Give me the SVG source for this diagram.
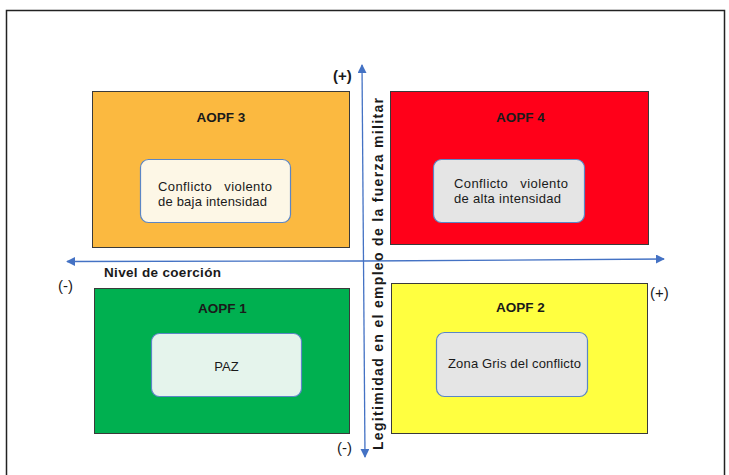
<svg xmlns="http://www.w3.org/2000/svg" width="729" height="475" viewBox="0 0 729 475">
<defs>
<style>
.q{stroke:#3a3a3a;stroke-width:1}
.in{stroke:#5b86c5;stroke-width:1.2}
.t{font-family:"Liberation Sans",Arial,sans-serif;fill:#1a1a1a}
.b{font-weight:bold;font-size:13.5px;text-anchor:middle}
.s{font-size:13px;white-space:pre}
.ax{stroke:#4472c4;stroke-width:1.3;fill:none}
</style>
<marker id="ah" viewBox="0 0 10 10" refX="9" refY="5" markerWidth="9" markerHeight="9" markerUnits="userSpaceOnUse" orient="auto">
<path d="M0,0 L10,5 L0,10 z" fill="#4472c4"/>
</marker>
</defs>
<rect x="0" y="0" width="729" height="475" fill="#fff"/>
<rect x="6.5" y="10.5" width="718" height="480" fill="none" stroke="#222" stroke-width="1.5"/>

<g id="aopf3">
<rect class="q" x="92.5" y="91.5" width="257" height="156" fill="#fbb940"/>
<text class="t b" x="221" y="122">AOPF 3</text>
<rect class="in" x="140.5" y="159.5" width="150" height="63" rx="8" fill="#fdf7e6"/>
<text class="t s" x="158" y="191" xml:space="preserve" textLength="114">Conflicto   violento</text>
<text class="t s" x="158" y="206" textLength="109">de baja intensidad</text>
</g>

<g id="aopf4">
<rect class="q" x="390.5" y="91.5" width="258" height="153" fill="#ff0019"/>
<text class="t b" x="520.5" y="122">AOPF 4</text>
<rect class="in" x="433.5" y="159.5" width="151" height="63" rx="8" fill="#e5e5e5"/>
<text class="t s" x="454" y="188" xml:space="preserve" textLength="114">Conflicto   violento</text>
<text class="t s" x="454" y="203" textLength="107">de alta intensidad</text>
</g>

<g id="aopf1">
<rect class="q" x="94.5" y="288.5" width="255" height="145" fill="#00b050"/>
<text class="t b" x="222.5" y="313">AOPF 1</text>
<rect class="in" x="151.5" y="333.5" width="150" height="63" rx="8" fill="#e5f4ec"/>
<text class="t s" x="226.5" y="371" text-anchor="middle">PAZ</text>
</g>

<g id="aopf2">
<rect class="q" x="391.5" y="283.5" width="256" height="150" fill="#ffff40"/>
<text class="t b" x="520.5" y="312">AOPF 2</text>
<rect class="in" x="436.5" y="332.5" width="151" height="64" rx="8" fill="#e5e5e5"/>
<text class="t s" x="448" y="368" textLength="133">Zona Gris del conflicto</text>
</g>

<g id="connectors">
<line class="ax" x1="364" y1="261" x2="67" y2="261.5" marker-end="url(#ah)"/>
<line class="ax" x1="364" y1="261" x2="664" y2="259" marker-end="url(#ah)"/>
<line class="ax" x1="363.5" y1="261" x2="362" y2="65" marker-end="url(#ah)"/>
<line class="ax" x1="363.5" y1="261" x2="365" y2="457" marker-end="url(#ah)"/>
</g>

<g id="labels">
<text class="t" x="104" y="277" font-weight="bold" font-size="13.5" textLength="117">Nivel de coerción</text>
<text class="t" x="58" y="291" font-size="15">(-)</text>
<text class="t" x="337" y="453" font-size="15">(-)</text>
<text class="t" x="333" y="81" font-size="15" font-weight="bold">(+)</text>
<text class="t" x="650" y="298" font-size="15">(+)</text>
<text class="t" transform="translate(383,450) rotate(-90)" font-weight="bold" font-size="14" textLength="352">Legitimidad en el empleo de la fuerza militar</text>
</g>
</svg>
